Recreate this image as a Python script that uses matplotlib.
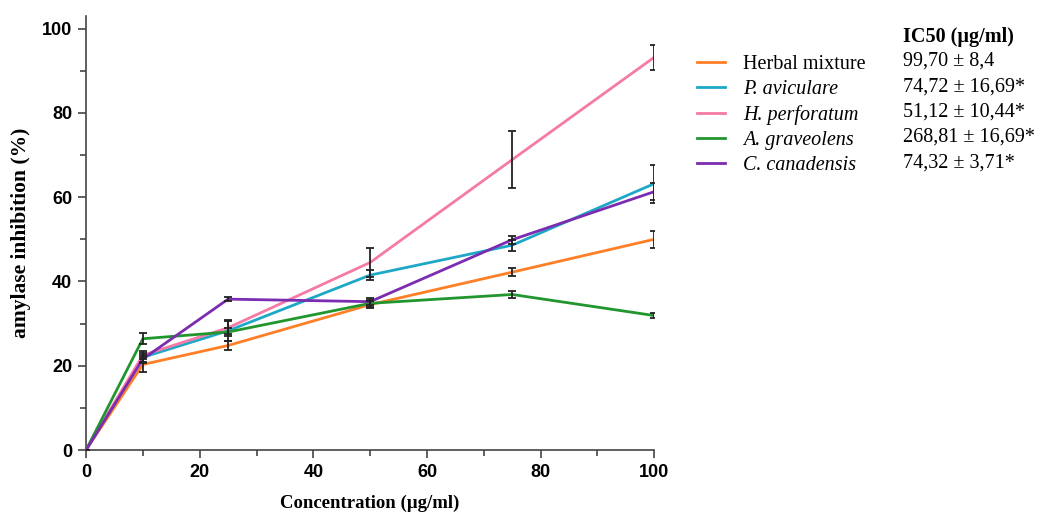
from matplotlib import pyplot as plt
from matplotlib.ticker import MultipleLocator

conc = [0, 10, 25, 50, 75, 100]

names = ['Herbal mixture', 'P. aviculare', 'H. perforatum', 'A. graveolens', 'C. canadensis']
ic50 = ['99,70 ± 8,4', '74,72 ± 16,69*', '51,12 ± 10,44*', '268,81 ± 16,69*', '74,32 ± 3,71*']
colors = ['#ff7f27', '#1ea8c8', '#f57aa6', '#22962e', '#7b2cb0']

herbal = [0, 20.3, 24.8, 34.5, 42.2, 50.0]
herbal_err = [0, 1.7, 1.0, 0.8, 0.9, 2.0]
aviculare = [0, 22.0, 28.3, 41.5, 48.6, 63.2]
aviculare_err = [0, 1.0, 2.5, 1.2, 1.3, 4.5]
perforatum = [0, 22.5, 29.0, 44.5, 68.9, 93.2]
perforatum_err = [0, 1.0, 1.5, 3.5, 6.8, 3.0]
graveolens = [0, 26.4, 28.0, 34.8, 36.9, 31.9]
graveolens_err = [0, 1.3, 1.0, 0.8, 0.8, 0.5]
canadensis = [0, 21.6, 35.8, 35.2, 49.9, 61.3]
canadensis_err = [0, 1.0, 0.5, 0.8, 0.9, 2.0]

values = [herbal, aviculare, perforatum, graveolens, canadensis]
errors = [herbal_err, aviculare_err, perforatum_err, graveolens_err, canadensis_err]

fig = plt.figure(figsize=(10.57, 5.14), dpi=100)
ax = fig.add_axes([0.0814, 0.1245, 0.5376, 0.8445])

for name, y, e, c in zip(names, values, errors, colors):
    ax.plot(conc, y, color=c, lw=2, label=name, zorder=3)
    ax.errorbar(conc, y, yerr=e, fmt='none', ecolor='#222222', elinewidth=1.3,
                capsize=3, capthick=1.3, zorder=4)

ax.set_xlim(0, 100)
ax.set_ylim(0, 103)
ax.xaxis.set_major_locator(MultipleLocator(20))
ax.xaxis.set_minor_locator(MultipleLocator(10))
ax.yaxis.set_major_locator(MultipleLocator(20))
ax.yaxis.set_minor_locator(MultipleLocator(10))
ax.spines['top'].set_visible(False)
ax.spines['right'].set_visible(False)
for s in ['left', 'bottom']:
    ax.spines[s].set_color('#444444')
    ax.spines[s].set_linewidth(1.2)
ax.tick_params(which='both', direction='out', color='#444444', width=1.2)
ax.tick_params(which='major', length=6, labelsize=13, pad=4)
ax.tick_params(which='minor', length=4)
for lab in ax.get_xticklabels() + ax.get_yticklabels():
    lab.set_fontfamily('Liberation Sans')
    lab.set_fontweight('bold')

ax.set_xlabel('Concentration (µg/ml)', fontfamily='Liberation Serif', fontweight='bold',
              fontsize=13.5, labelpad=10)
ax.set_ylabel('amylase inhibition (%)', fontfamily='Liberation Serif', fontweight='bold',
              fontsize=15.5, labelpad=8)

leg = ax.legend(loc='upper left', bbox_to_anchor=(0.65, 0.913), bbox_transform=fig.transFigure,
                frameon=False, prop={'family': 'Liberation Serif', 'size': 14.5},
                handlelength=1.4, handletextpad=0.9, labelspacing=0.3, borderpad=0)
for i, t in enumerate(leg.get_texts()):
    if i > 0:
        t.set_fontstyle('italic')

fig.text(0.854, 0.928, 'IC50 (µg/ml)', fontfamily='Liberation Serif', fontweight='bold',
         fontsize=14.5, va='center')
row_y = [0.881, 0.831, 0.782, 0.733, 0.683]
for yy, s in zip(row_y, ic50):
    fig.text(0.854, yy, s, fontfamily='Liberation Serif', fontsize=14.5, va='center')

plt.savefig('out.png', dpi=100)
